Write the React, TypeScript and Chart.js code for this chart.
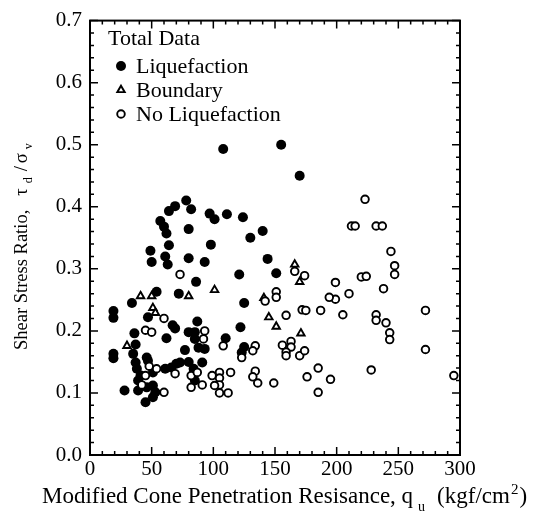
import React, { useEffect, useRef } from 'react';
import { Chart, registerables } from 'chart.js';

Chart.register(...registerables);

const FONT = '"Liberation Serif", "Times New Roman", serif';

const legendTitle = 'Total Data';
const seriesNames = ['Liquefaction', 'Boundary', 'No Liquefaction'];

const xRange = [0, 300];
const yRange = [0, 0.7];
const xStep = 50;
const yStep = 0.1;
const xMinorStep = 10;
const yMinorStep = 0.02;

const liquefaction: number[][] = [
  [108, 0.493], [155, 0.5], [170, 0.45],
  [69, 0.401], [64, 0.393], [78, 0.41], [82, 0.396], [97, 0.389], [101, 0.38], [111, 0.388], [124, 0.383], [140, 0.361], [130, 0.35],
  [57, 0.377], [60, 0.368], [62, 0.357], [80, 0.364],
  [64, 0.338], [98, 0.339], [49, 0.329], [61, 0.32], [63, 0.307], [50, 0.311], [80, 0.317], [93, 0.311], [144, 0.316],
  [86, 0.279], [121, 0.291], [151, 0.293], [54, 0.263], [34, 0.245], [72, 0.26], [125, 0.245],
  [47, 0.222], [19, 0.232], [19, 0.221], [67, 0.209], [69, 0.204], [87, 0.215], [122, 0.206],
  [36, 0.196], [80, 0.198], [85, 0.198], [62, 0.188], [85, 0.187], [110, 0.188],
  [88, 0.173], [77, 0.169], [93, 0.171], [125, 0.174], [123, 0.165],
  [19, 0.163], [19, 0.156], [35, 0.163], [37, 0.149], [37, 0.178], [46, 0.157], [47, 0.152],
  [38, 0.139], [41, 0.128], [39, 0.12], [51, 0.133], [61, 0.139], [66, 0.141], [70, 0.147], [73, 0.149],
  [80, 0.15], [84, 0.139], [91, 0.149], [85, 0.12],
  [28, 0.104], [39, 0.104], [46, 0.109], [51, 0.112], [53, 0.101], [45, 0.085], [51, 0.093],
];

const boundary: number[][] = [
  [41, 0.256], [50, 0.256], [80, 0.256], [101, 0.266], [51, 0.237], [53, 0.229], [30, 0.176],
  [141, 0.253], [145, 0.222], [151, 0.207], [166, 0.307], [170, 0.279], [171, 0.196],
];

const noLiquefaction: number[][] = [
  [223, 0.412], [212, 0.369], [215, 0.369], [232, 0.369], [237, 0.369],
  [244, 0.328], [247, 0.305], [247, 0.291], [220, 0.287], [224, 0.288], [199, 0.278], [238, 0.268],
  [199, 0.251], [194, 0.254], [210, 0.26], [205, 0.226], [232, 0.226], [232, 0.217], [240, 0.213],
  [243, 0.197], [243, 0.186], [272, 0.233], [272, 0.17], [228, 0.137], [295, 0.128], [195, 0.122],
  [187, 0.233], [166, 0.296], [174, 0.289], [151, 0.263], [151, 0.254], [172, 0.234], [175, 0.233], [159, 0.225],
  [156, 0.177], [163, 0.183], [163, 0.174], [159, 0.166], [159, 0.16], [170, 0.16], [174, 0.168],
  [185, 0.14], [176, 0.126], [185, 0.101], [149, 0.116], [142, 0.248],
  [73, 0.291], [60, 0.22], [45, 0.201], [50, 0.198], [93, 0.2], [92, 0.187], [108, 0.176], [123, 0.157],
  [134, 0.176], [132, 0.168], [105, 0.133], [105, 0.124], [105, 0.113], [105, 0.1], [112, 0.1], [114, 0.133],
  [134, 0.135], [132, 0.126], [136, 0.116], [99, 0.128], [101, 0.112],
  [45, 0.128], [54, 0.139], [69, 0.131], [82, 0.128], [87, 0.133], [82, 0.109], [91, 0.113], [60, 0.101], [48, 0.143], [42, 0.113],
];

function drawMarker(ctx: CanvasRenderingContext2D, kind: string, x: number, y: number) {
  ctx.save();
  ctx.strokeStyle = '#000';
  ctx.fillStyle = '#000';
  ctx.lineWidth = 1.9;
  ctx.beginPath();
  if (kind === 'filled') {
    ctx.arc(x, y, 5, 0, Math.PI * 2);
    ctx.fill();
  } else if (kind === 'triangle') {
    const r = 4.3;
    for (let i = 0; i < 3; i++) {
      const a = (i * 2 * Math.PI) / 3;
      const px = x + Math.sin(a) * r;
      const py = y - Math.cos(a) * r;
      if (i === 0) ctx.moveTo(px, py); else ctx.lineTo(px, py);
    }
    ctx.closePath();
    ctx.fillStyle = '#fff';
    ctx.fill();
    ctx.stroke();
  } else {
    ctx.arc(x, y, 3.8, 0, Math.PI * 2);
    ctx.fillStyle = '#fff';
    ctx.fill();
    ctx.stroke();
  }
  ctx.restore();
}

export default function App() {
  const ref = useRef<HTMLCanvasElement>(null);

  useEffect(() => {
    const canvas = ref.current;
    if (!canvas) return;

    const decor = {
      id: 'decor',
      afterDraw(chart: any) {
        const ctx: CanvasRenderingContext2D = chart.ctx;
        const { left, right, top, bottom } = chart.chartArea;
        const xs = chart.scales.x;
        const ys = chart.scales.y;
        ctx.save();
        // frame
        ctx.strokeStyle = '#000';
        ctx.lineWidth = 2;
        ctx.strokeRect(left, top, right - left, bottom - top);
        // inner ticks
        ctx.lineWidth = 1.5;
        ctx.beginPath();
        for (let v = xRange[0]; v <= xRange[1] + 1e-9; v += xMinorStep) {
          const px = xs.getPixelForValue(v);
          const major = Math.abs(v / xStep - Math.round(v / xStep)) < 1e-6;
          const len = major ? 8 : 4;
          ctx.moveTo(px, bottom);
          ctx.lineTo(px, bottom - len);
          ctx.moveTo(px, top);
          ctx.lineTo(px, top + len);
        }
        for (let v = yRange[0]; v <= yRange[1] + 1e-9; v += yMinorStep) {
          const py = ys.getPixelForValue(v);
          const major = Math.abs(v / yStep - Math.round(v / yStep)) < 1e-6;
          const len = major ? 8 : 4;
          ctx.moveTo(left, py);
          ctx.lineTo(left + len, py);
          ctx.moveTo(right, py);
          ctx.lineTo(right - len, py);
        }
        ctx.stroke();

        // legend
        ctx.fillStyle = '#000';
        ctx.textBaseline = 'alphabetic';
        ctx.textAlign = 'left';
        ctx.font = `22px ${FONT}`;
        ctx.fillText(legendTitle, 108, 45);
        const kinds = ['filled', 'triangle', 'open'];
        const rowsY = [66, 90, 114];
        seriesNames.forEach((name, i) => {
          drawMarker(ctx, kinds[i], 121, rowsY[i]);
          ctx.fillStyle = '#000';
          ctx.font = `22px ${FONT}`;
          ctx.fillText(name, 136, rowsY[i] + 7);
        });

        // x title
        const xb = 503;
        let cx = 42;
        ctx.font = `23px ${FONT}`;
        const t1 = 'Modified Cone Penetration Resisance, q';
        ctx.fillText(t1, cx, xb);
        cx += ctx.measureText(t1).width + 5;
        ctx.font = `14px ${FONT}`;
        ctx.fillText('u', cx, xb + 8);
        cx += ctx.measureText('u').width + 12;
        ctx.font = `23px ${FONT}`;
        ctx.fillText('(kgf/cm', cx, xb);
        cx += ctx.measureText('(kgf/cm').width + 1;
        ctx.font = `15px ${FONT}`;
        ctx.fillText('2', cx, xb - 9);
        cx += ctx.measureText('2').width + 1;
        ctx.font = `23px ${FONT}`;
        ctx.fillText(')', cx, xb);

        // y title (rotated)
        ctx.save();
        ctx.translate(27, 350);
        ctx.rotate(-Math.PI / 2);
        ctx.font = `18.5px ${FONT}`;
        const yt = 'Shear Stress Ratio,';
        ctx.fillText(yt, 0, 0);
        let ty = ctx.measureText(yt).width + 14;
        ctx.fillText('τ', ty, 0);
        ty += ctx.measureText('τ').width + 5;
        ctx.font = `12px ${FONT}`;
        ctx.fillText('d', ty, 5);
        ty += ctx.measureText('d').width + 6;
        ctx.font = `18.5px ${FONT}`;
        ctx.fillText('/', ty, 0);
        ty += ctx.measureText('/').width + 3;
        ctx.fillText('σ', ty, 0);
        ty += ctx.measureText('σ').width + 4;
        ctx.font = `12px ${FONT}`;
        ctx.fillText('v', ty, 5);
        ctx.restore();

        ctx.restore();
      },
    };

    const chart = new Chart(canvas, {
      type: 'scatter',
      data: {
        datasets: [
          {
            label: seriesNames[2],
            data: noLiquefaction.map(([x, y]) => ({ x, y })),
            pointStyle: 'circle',
            pointRadius: 3.8,
            borderWidth: 1.9,
            borderColor: '#000',
            backgroundColor: '#fff',
            order: 0,
          },
          {
            label: seriesNames[1],
            data: boundary.map(([x, y]) => ({ x, y })),
            pointStyle: 'triangle',
            pointRadius: 4.3,
            borderWidth: 1.9,
            borderColor: '#000',
            backgroundColor: '#fff',
            order: 1,
          },
          {
            label: seriesNames[0],
            data: liquefaction.map(([x, y]) => ({ x, y })),
            pointStyle: 'circle',
            pointRadius: 5,
            borderWidth: 0,
            borderColor: '#000',
            backgroundColor: '#000',
            order: 2,
          },
        ],
      },
      options: {
        responsive: false,
        animation: false,
        devicePixelRatio: 1,
        layout: { padding: { top: 17, right: 76, left: 0, bottom: 0 } },
        plugins: { legend: { display: false }, tooltip: { enabled: false } },
        scales: {
          x: {
            type: 'linear',
            min: xRange[0],
            max: xRange[1],
            afterFit: (s: any) => { s.height = 60; },
            grid: { display: false, drawTicks: false },
            border: { display: false },
            ticks: { stepSize: xStep, font: { family: FONT, size: 21 }, color: '#000', padding: 2, maxRotation: 0 },
          },
          y: {
            type: 'linear',
            min: yRange[0],
            max: yRange[1],
            afterFit: (s: any) => { s.width = 90; },
            grid: { display: false, drawTicks: false },
            border: { display: false },
            ticks: {
              stepSize: yStep,
              font: { family: FONT, size: 21 },
              color: '#000',
              padding: 8,
              callback: (v: any) => Number(v).toFixed(1),
            },
          },
        },
      },
      plugins: [decor],
    });

    return () => chart.destroy();
  }, []);

  return (
    <div style={{ position: 'absolute', left: 0, top: 0, width: 536, height: 515, background: '#fff' }}>
      <canvas ref={ref} width={536} height={515} style={{ width: 536, height: 515, display: 'block' }} />
    </div>
  );
}
